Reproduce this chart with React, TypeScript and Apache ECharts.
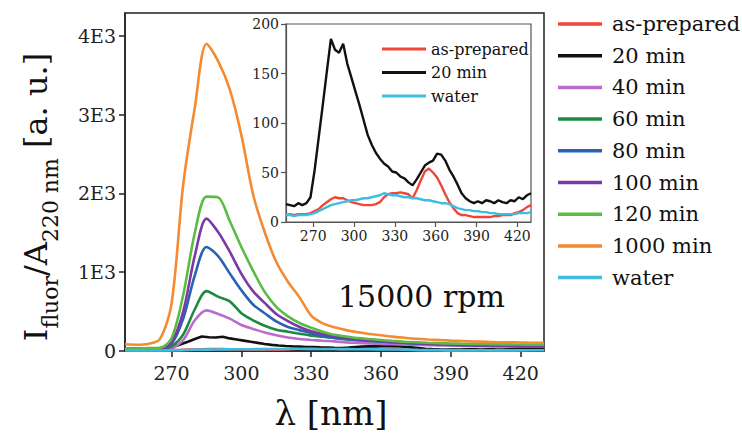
import React, { useEffect, useRef } from 'react';
import * as echarts from 'echarts';

const SERIF = '"DejaVu Serif", "Liberation Serif", serif';

// Wavelength grids (nm)
const fineWavelengths = [
  250, 253, 256, 259, 262, 265, 268, 271, 274, 277,
  280, 283, 286, 289, 292, 295, 298, 301, 304, 307,
  310, 313, 316, 319, 322, 325, 328, 331, 334, 337,
  340, 343, 346, 349, 352, 355, 358, 361, 364, 367,
  370, 373, 376, 379, 382, 385, 388, 391, 394, 397,
  400, 403, 406, 409, 412, 415, 418, 421, 424, 427,
  430,
];
const coarseWavelengths = [
  250, 255, 260, 265, 270, 275, 280, 285, 290, 295,
  300, 305, 310, 315, 320, 325, 330, 335, 340, 345,
  350, 355, 360, 365, 370, 375, 380, 385, 390, 395,
  400, 405, 410, 415, 420, 425, 430,
];

// Fluorescence intensities on the fine grid
const asPrepared = [
  7, 8, 7, 8, 8, 8, 9, 11, 13, 17,
  20, 23, 25, 24, 24, 22, 20, 19, 18, 17,
  17, 17, 18, 20, 25, 28, 29, 29, 30, 29,
  28, 24, 32, 42, 51, 54, 50, 45, 37, 28,
  20, 14, 9, 7, 7, 6, 5, 5, 5, 5,
  5, 6, 6, 7, 7, 7, 9, 10, 12, 15,
  17,
];
const min20 = [
  18, 17, 16, 19, 17, 19, 25, 52, 85, 118,
  152, 185, 174, 171, 180, 160, 146, 132, 118, 103,
  88, 78, 70, 64, 59, 56, 51, 50, 46, 44,
  40, 37, 43, 50, 57, 60, 62, 69, 68, 62,
  53, 46, 38, 29, 24, 21, 19, 21, 19, 22,
  21, 19, 22, 20, 19, 22, 21, 25, 23, 27,
  29,
];
const water = [
  7, 7, 6, 7, 7, 7, 8, 9, 11, 13,
  15, 17, 18, 19, 20, 21, 22, 22, 23, 24,
  24, 25, 26, 27, 29, 28, 27, 27, 26, 25,
  25, 24, 24, 23, 22, 22, 21, 20, 19, 19,
  18, 16, 14, 13, 12, 12, 11, 11, 10, 10,
  9, 9, 8, 8, 8, 8, 8, 9, 9, 9,
  10,
];

// Fluorescence intensities on the coarse grid
const min40 = [
  25, 24, 26, 28, 40, 140, 390, 515, 470, 410,
  330, 280, 235, 200, 172, 152, 140, 130, 122, 110,
  103, 97, 90, 86, 82, 78, 75, 72, 68, 65,
  62, 60, 58, 57, 56, 55, 55,
];
const min60 = [
  28, 30, 28, 32, 60, 210, 530, 760, 690, 630,
  480, 390, 320, 270, 245, 220, 195, 180, 165, 150,
  138, 128, 120, 112, 105, 100, 95, 90, 86, 82,
  80, 78, 76, 74, 72, 70, 70,
];
const min80 = [
  30, 28, 30, 33, 90, 410, 960, 1320, 1205, 985,
  770, 590, 480, 375, 305, 265, 225, 190, 165, 150,
  140, 130, 122, 112, 103, 95, 90, 85, 80, 76,
  72, 70, 68, 66, 65, 65, 65,
];
const min100 = [
  30, 28, 32, 35, 110, 500, 1210, 1680, 1510, 1260,
  980, 760, 610, 470, 380, 305, 250, 215, 190, 170,
  150, 135, 125, 115, 105, 98, 92, 85, 80, 75,
  72, 68, 65, 63, 62, 60, 60,
];
const min120 = [
  35, 32, 36, 40, 160, 710, 1500, 1960, 1950, 1650,
  1320, 1020, 750, 560, 440, 355, 295, 245, 205, 185,
  165, 152, 140, 128, 118, 112, 105, 100, 95, 92,
  90, 88, 85, 84, 82, 80, 80,
];
const min1000 = [
  85, 80, 90, 150, 600, 2110, 3090, 3900, 3680, 3320,
  2740, 1990, 1510, 1130, 880, 680, 450, 350, 300, 265,
  238, 215, 200, 182, 168, 155, 146, 140, 132, 126,
  120, 117, 112, 110, 108, 105, 105,
];

// Axis ticks
const xTicks = [270, 300, 330, 360, 390, 420];
const mainYTicks = [0, 1000, 2000, 3000, 4000];
const insetYTicks = [0, 50, 100, 150, 200];

const seriesDefs = [
  { name: 'as-prepared', wl: fineWavelengths, values: asPrepared, color: '#f0463a' },
  { name: '20 min', wl: fineWavelengths, values: min20, color: '#111111' },
  { name: '40 min', wl: coarseWavelengths, values: min40, color: '#b86ccc' },
  { name: '60 min', wl: coarseWavelengths, values: min60, color: '#1f8a3f' },
  { name: '80 min', wl: coarseWavelengths, values: min80, color: '#2b62b5' },
  { name: '100 min', wl: coarseWavelengths, values: min100, color: '#7a3aa5' },
  { name: '120 min', wl: coarseWavelengths, values: min120, color: '#5bbc45' },
  { name: '1000 min', wl: coarseWavelengths, values: min1000, color: '#f48a32' },
  { name: 'water', wl: fineWavelengths, values: water, color: '#3fbde0' },
];
const insetNames = ['as-prepared', '20 min', 'water'];

const zip = (xs: number[], ys: number[]) => xs.map((x, i) => [x, ys[i]]);

export default function App() {
  const ref = useRef<HTMLDivElement>(null);

  useEffect(() => {
    if (!ref.current) return;
    const chart = echarts.init(ref.current, undefined, { renderer: 'svg' });
    const axisLineStyle = { color: '#222', width: 1.5 };
    const insetLineStyle = { color: '#555', width: 1.2 };

    const mainSeries = seriesDefs.map((s) => ({
      type: 'line',
      name: s.name,
      xAxisIndex: 0,
      yAxisIndex: 0,
      data: zip(s.wl, s.values),
      showSymbol: false,
      symbol: 'none',
      smooth: s.wl === coarseWavelengths ? 0.3 : false,
      color: s.color,
      itemStyle: { color: s.color },
      lineStyle: { color: s.color, width: 2.6 },
    }));
    const insetSeries = seriesDefs
      .filter((s) => insetNames.includes(s.name))
      .map((s) => ({
        type: 'line',
        name: s.name,
        xAxisIndex: 1,
        yAxisIndex: 1,
        data: zip(s.wl, s.values),
        showSymbol: false,
        symbol: 'none',
        color: s.color,
        itemStyle: { color: s.color },
        lineStyle: { color: s.color, width: 2.4 },
      }));

    chart.setOption({
      animation: false,
      backgroundColor: '#ffffff',
      textStyle: { fontFamily: SERIF },
      grid: [
        { left: 125, top: 13, right: 198, bottom: 91, show: true, borderColor: '#222', borderWidth: 1.5, backgroundColor: 'transparent' },
        { left: 286, top: 24, width: 245, height: 198, show: true, borderColor: '#555', borderWidth: 1.2, backgroundColor: '#ffffff' },
      ],
      xAxis: [
        {
          type: 'value', gridIndex: 0, min: 250, max: 430,
          axisLine: { show: true, onZero: false, lineStyle: axisLineStyle },
          axisTick: { show: true, customValues: xTicks, length: 6, lineStyle: axisLineStyle },
          axisLabel: { customValues: xTicks, fontSize: 19, color: '#222', margin: 12, fontFamily: SERIF },
          splitLine: { show: false },
        },
        {
          type: 'value', gridIndex: 1, min: 250, max: 430,
          axisLine: { show: true, onZero: false, lineStyle: insetLineStyle },
          axisTick: { show: true, customValues: xTicks, length: 5, lineStyle: insetLineStyle },
          axisLabel: { customValues: xTicks, fontSize: 14, color: '#222', margin: 7, fontFamily: SERIF },
          splitLine: { show: false },
        },
      ],
      yAxis: [
        {
          type: 'value', gridIndex: 0, min: 0, max: 4290,
          axisLine: { show: true, onZero: false, lineStyle: axisLineStyle },
          axisTick: { show: true, customValues: mainYTicks, length: 6, lineStyle: axisLineStyle },
          axisLabel: {
            customValues: mainYTicks, fontSize: 19, color: '#222', margin: 9, fontFamily: SERIF,
            formatter: (v: number) => (v === 0 ? '0' : `${v / 1000}E3`),
          },
          splitLine: { show: false },
        },
        {
          type: 'value', gridIndex: 1, min: 0, max: 200,
          axisLine: { show: true, onZero: false, lineStyle: insetLineStyle },
          axisTick: { show: true, customValues: insetYTicks, length: 5, lineStyle: insetLineStyle },
          axisLabel: { customValues: insetYTicks, fontSize: 14, color: '#222', margin: 7, fontFamily: SERIF },
          splitLine: { show: false },
        },
      ],
      legend: [
        {
          data: seriesDefs.map((s) => s.name),
          orient: 'vertical', left: 553, top: 7, icon: 'rect',
          itemWidth: 44, itemHeight: 3.5, itemGap: 7.7, selectedMode: false,
          textStyle: { fontSize: 21, lineHeight: 24, color: '#111', fontFamily: SERIF, padding: [0, 0, 0, 5] },
        },
        {
          data: insetNames,
          orient: 'vertical', left: 377, top: 34, icon: 'rect',
          itemWidth: 44, itemHeight: 3, itemGap: 3.5, selectedMode: false,
          textStyle: { fontSize: 16, lineHeight: 20, color: '#111', fontFamily: SERIF },
        },
      ],
      graphic: [
        {
          type: 'text', x: 36, y: 197, rotation: Math.PI / 2,
          style: {
            text: '{b|I}{s|fluor}{b|/A}{s|220 nm}{b| [a. u.]}',
            align: 'center', verticalAlign: 'middle', fill: '#111',
            rich: {
              b: { fontSize: 32, fontFamily: SERIF, fill: '#111' },
              s: { fontSize: 22, fontFamily: SERIF, fill: '#111', padding: [28, 0, 0, 0] },
            },
          },
        },
        {
          type: 'text', x: 331, y: 413,
          style: { text: 'λ [nm]', fontSize: 34, fontFamily: SERIF, fill: '#111', align: 'center', verticalAlign: 'middle' },
        },
        {
          type: 'text', x: 338, y: 296,
          style: { text: '15000 rpm', fontSize: 30, fontFamily: SERIF, fill: '#111', align: 'left', verticalAlign: 'middle' },
        },
      ],
      series: [...mainSeries, ...insetSeries],
    });
    return () => chart.dispose();
  }, []);

  return <div ref={ref} style={{ width: 742, height: 442, position: 'absolute', left: 0, top: 0 }} />;
}
